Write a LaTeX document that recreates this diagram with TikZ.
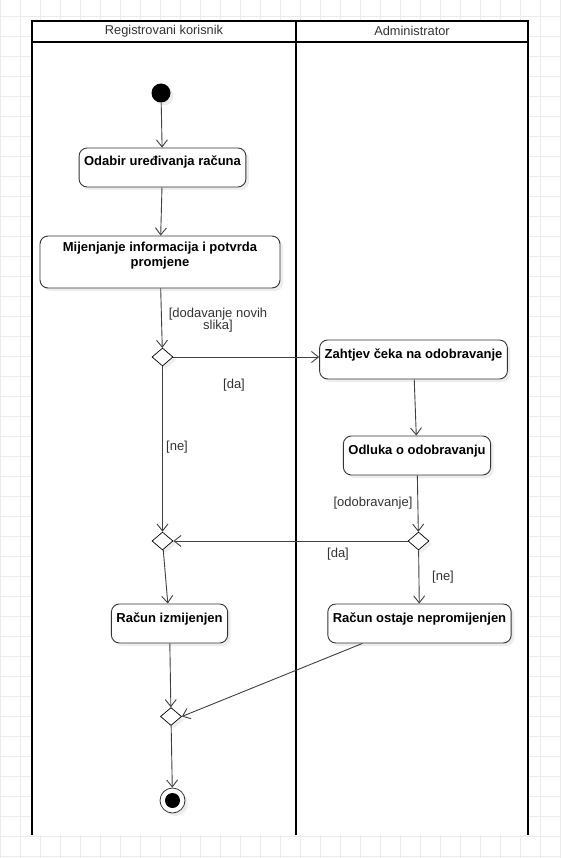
\documentclass[tikz,border=0pt]{standalone}
\usepackage{fontspec}
\setmainfont{Liberation Sans}
\usetikzlibrary{positioning, arrows.meta, shapes.geometric, shadows, calc}

\begin{document}
\begin{tikzpicture}[
        x=1pt, y=-1pt,
        gridline/.style={
            draw=black!8,
            line width=0.8pt
        },
        lane/.style={
            draw=black,
            line width=2pt
        },
        lanetitle/.style={
            font=\fontsize{12.8pt}{14pt}\selectfont,
            text=black!80,
            inner sep=0pt
        },
        activity/.style={
            draw=black!80,
            rectangle,
            rounded corners=8pt,
            align=center,
            fill=white,
            font=\fontsize{13pt}{15pt}\selectfont\bfseries,
            inner sep=5pt,
            text height=13pt,
            text depth=16pt,
            line width=0.9pt,
            drop shadow={shadow xshift=3pt, shadow yshift=-3pt, fill=black!7, opacity=1}
        },
        decision/.style={
            draw=black,
            diamond,
            fill=white,
            inner sep=0pt,
            minimum width=21pt,
            minimum height=18pt,
            line width=0.7pt,
            drop shadow={shadow xshift=3pt, shadow yshift=-3pt, fill=black!7, opacity=1}
        },
        startstate/.style={
            circle,
            fill=black,
            minimum size=19pt,
            inner sep=0pt,
            drop shadow={shadow xshift=3pt, shadow yshift=-3pt, fill=black!7, opacity=1}
        },
        endstate/.style={
            circle,
            draw=black!80,
            fill=white,
            line width=0.8pt,
            minimum size=25pt,
            inner sep=0pt,
            drop shadow={shadow xshift=3pt, shadow yshift=-3pt, fill=black!7, opacity=1}
        },
        guard/.style={
            font=\fontsize{13pt}{12.5pt}\selectfont,
            text=black!80,
            align=center,
            inner sep=0pt
        },
        arrow/.style={
            -{Straight Barb[length=7pt, width=11pt]},
            line width=0.9pt,
            draw=black!75
        }
    ]
        \useasboundingbox (0,0) rectangle (561,858);

        % Pozadinska mreza
        \fill[white] (0,0) rectangle (561,858);
        \foreach \gx in {0,20,...,560}
            \draw[gridline] (\gx,0) -- (\gx,858);
        \foreach \gy in {16,36,...,856}
            \draw[gridline] (0,\gy) -- (561,\gy);

        % Plivacke staze
        \fill[white] (32,21) rectangle (528,835);
        \draw[lane] (32,835) -- (32,21) -- (528,21) -- (528,835);
        \draw[lane] (32,42) -- (528,42);
        \draw[lane] (296,21) -- (296,835);
        \node (korisnik) [lanetitle] at (164,31) {Registrovani korisnik};
        \node (admin) [lanetitle] at (412,31) {Administrator};

        % Registrovani korisnik
        \node (start) [startstate] at (161,93) {};
        \node (odabir) [activity, minimum width=165pt] at (162.5,167.5) {Odabir uređivanja računa};
        \node (mijenjanje) [activity, minimum width=240pt, text height=26pt, text depth=16pt] at (160,262) {Mijenjanje informacija i potvrda\\promjene};
        \node (dec1) [decision] at (162.5,357) {};
        \node (dec2) [decision] at (162.5,541) {};
        \node (izmijenjen) [activity, minimum width=115pt] at (169.5,623.5) {Račun izmijenjen};
        \node (dec4) [decision] at (171,716.5) {};
        \node (kraj) [endstate] at (172.5,800.5) {};
        \fill[black] (kraj.center) circle (7.5pt);

        % Administrator
        \node (zahtjev) [activity, minimum width=187pt] at (413.5,359.5) {Zahtjev čeka na odobravanje};
        \node (odluka) [activity, minimum width=146pt] at (417,455.5) {Odluka o odobravanju};
        \node (dec3) [decision] at (418.5,541) {};
        \node (ostaje) [activity, minimum width=183pt] at (419.5,623.5) {Račun ostaje nepromijenjen};

        % Uslovi
        \node (gdodavanje) [guard] at (218,320) {[dodavanje novih\\slika]};
        \node (gda1) [guard] at (234,385) {[da]};
        \node (gne1) [guard] at (177,447) {[ne]};
        \node (godobravanje) [guard] at (373,503) {[odobravanje]};
        \node (gda2) [guard] at (338,554) {[da]};
        \node (gne2) [guard] at (443,577) {[ne]};

        % Veze
        \draw [arrow] (start) -- (odabir);
        \draw [arrow] (odabir) -- (mijenjanje);
        \draw [arrow] (mijenjanje) -- (dec1);
        \draw [arrow] (dec1.east) -- (dec1.east -| zahtjev.west);
        \draw [arrow] (dec1) -- (dec2);
        \draw [arrow] (zahtjev) -- (odluka);
        \draw [arrow] (odluka) -- (dec3);
        \draw [arrow] (dec3) -- (dec2);
        \draw [arrow] (dec3) -- (ostaje);
        \draw [arrow] (dec2) -- (izmijenjen);
        \draw [arrow] (izmijenjen) -- (dec4);
        \draw [arrow] ($(ostaje.south west)+(35,0)$) -- (dec4.east);
        \draw [arrow] (dec4) -- (kraj);
    \end{tikzpicture}
\end{document}
